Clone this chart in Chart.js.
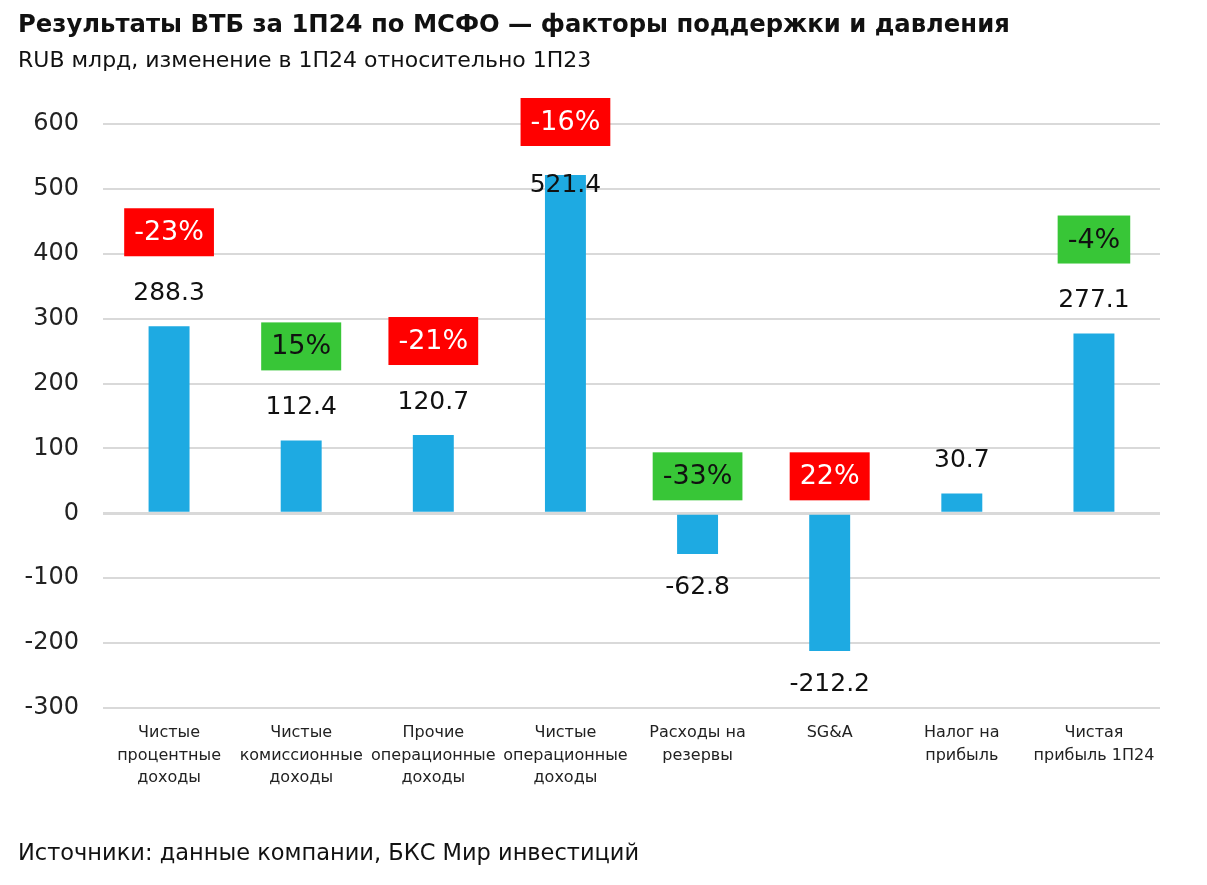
<!DOCTYPE html>
<html lang="ru">
<head>
    <meta charset="UTF-8">
    <title>ВТБ 1П24 МСФО</title>
    <script src="https://cdn.jsdelivr.net/npm/chart.js"></script>
    <style>
        body { margin: 0; background: #fff; }
        .wrap { position: relative; width: 1207px; height: 885px; overflow: hidden; }
        .title { position: absolute; left: 18px; top: 9px; font: bold 24.3px "DejaVu Sans", sans-serif; color: #111; white-space: nowrap; }
        .subtitle { position: absolute; left: 18px; top: 47px; font: 22px "DejaVu Sans", sans-serif; color: #111; white-space: nowrap; }
        .source { position: absolute; left: 18px; top: 839px; font: 22.5px "DejaVu Sans", sans-serif; color: #111; white-space: nowrap; }
        canvas { position: absolute; left: 0; top: 0; }
    </style>
</head>
<body>
<div class="wrap">
    <canvas id="chart" width="1207" height="885"></canvas>
    <div class="title">Результаты ВТБ за 1П24 по МСФО — факторы поддержки и давления</div>
    <div class="subtitle">RUB млрд, изменение в 1П24 относительно 1П23</div>
    <div class="source">Источники: данные компании, БКС Мир инвестиций</div>
</div>

<script>
    const categories = [
        ['Чистые', 'процентные', 'доходы'],
        ['Чистые', 'комиссионные', 'доходы'],
        ['Прочие', 'операционные', 'доходы'],
        ['Чистые', 'операционные', 'доходы'],
        ['Расходы на', 'резервы'],
        ['SG&A'],
        ['Налог на', 'прибыль'],
        ['Чистая', 'прибыль 1П24']
    ];
    const values = [288.3, 112.4, 120.7, 521.4, -62.8, -212.2, 30.7, 277.1];
    const changes = ['-23%', '15%', '-21%', '-16%', '-33%', '22%', null, '-4%'];
    // true = change is favourable (green), false = unfavourable (red)
    const favourable = [false, true, false, false, true, false, null, true];
    const yTicks = [-300, -200, -100, 0, 100, 200, 300, 400, 500, 600];

    const FONT = '"DejaVu Sans", sans-serif';

    const labelPlugin = {
        id: 'barLabels',
        afterDatasetsDraw(chart) {
            const ctx = chart.ctx;
            const y = chart.scales.y;
            const zero = y.getPixelForValue(0);
            const meta = chart.getDatasetMeta(0);
            ctx.save();
            ctx.textAlign = 'center';
            ctx.textBaseline = 'middle';
            meta.data.forEach((bar, i) => {
                const v = values[i];
                let labelY, boxY;
                if (v >= 0) {
                    labelY = bar.y - 33;
                    boxY = labelY - 61;
                    if (boxY < chart.chartArea.top) {
                        boxY = chart.chartArea.top - 2;
                        labelY = boxY + 63;
                    }
                } else {
                    labelY = bar.y + 33;
                    boxY = zero - 37;
                }
                ctx.font = '25px ' + FONT;
                ctx.fillStyle = '#111';
                ctx.fillText(v.toFixed(1), bar.x, labelY);

                if (changes[i]) {
                    ctx.font = '27px ' + FONT;
                    const w = ctx.measureText(changes[i]).width + 20;
                    const h = 48;
                    ctx.fillStyle = favourable[i] ? '#38c637' : '#ff0000';
                    ctx.fillRect(bar.x - w / 2, boxY - h / 2, w, h);
                    ctx.fillStyle = favourable[i] ? '#111' : '#fff';
                    ctx.fillText(changes[i], bar.x, boxY + 1);
                }
            });
            ctx.restore();
        }
    };

    new Chart(document.getElementById('chart'), {
        type: 'bar',
        data: {
            labels: categories,
            datasets: [{
                data: values,
                backgroundColor: '#1eaae2',
                categoryPercentage: 1,
                barPercentage: 0.31
            }]
        },
        options: {
            responsive: false,
            animation: false,
            layout: { padding: { top: 124, right: 47, bottom: 0, left: 0 } },
            plugins: {
                legend: { display: false },
                tooltip: { enabled: false }
            },
            scales: {
                x: {
                    grid: { display: false },
                    border: { display: false },
                    ticks: {
                        color: '#222',
                        font: { family: FONT, size: 16, lineHeight: 1.4 },
                        padding: 6,
                        maxRotation: 0,
                        autoSkip: false
                    },
                    afterFit(scale) { scale.height = 177; }
                },
                y: {
                    min: -300,
                    max: 600,
                    afterBuildTicks(scale) { scale.ticks = yTicks.map(v => ({ value: v })); },
                    grid: {
                        drawTicks: false,
                        color: '#d9d9d9',
                        lineWidth: ctx => ctx.tick && ctx.tick.value === 0 ? 3 : 2
                    },
                    border: { display: false },
                    ticks: {
                        color: '#222',
                        font: { family: FONT, size: 24 },
                        padding: 24
                    },
                    afterFit(scale) { scale.width = 103; }
                }
            }
        },
        plugins: [labelPlugin]
    });
</script>
</body>
</html>
